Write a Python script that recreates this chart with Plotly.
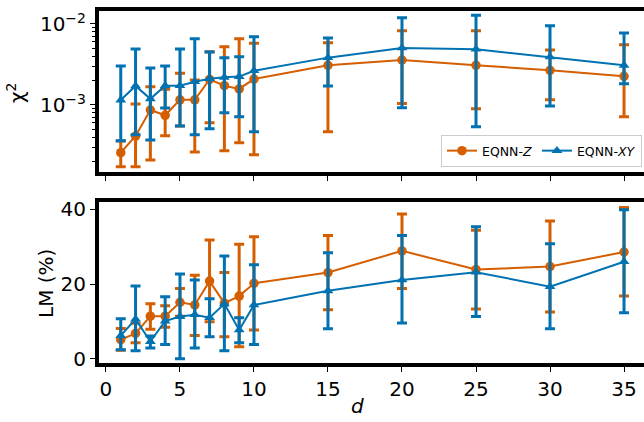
import plotly.graph_objects as go

# ---------------- data ----------------
d = [1, 2, 3, 4, 5, 6, 7, 8, 9, 10, 15, 20, 25, 30, 35]

chi_z = [2.58e-4, 4.14e-4, 8.67e-4, 7.46e-4, 1.16e-3, 1.16e-3, 2.07e-3, 1.73e-3, 1.58e-3, 2.09e-3,
         3.09e-3, 3.59e-3, 3.09e-3, 2.68e-3, 2.26e-3]
chi_z_hi = [3.6e-4, 1.03e-3, 1.68e-3, 1.56e-3, 2.46e-3, 2.04e-3, 4.55e-3, 5.25e-3, 6.59e-3, 5.78e-3,
            5.88e-3, 8.26e-3, 8.26e-3, 4.77e-3, 5.55e-3]
chi_z_lo = [1.73e-4, 1.73e-4, 2.09e-4, 4.18e-4, 5.51e-4, 2.63e-4, 6.04e-4, 2.73e-4, 3.43e-4, 2.43e-4,
            4.67e-4, 1.04e-3, 9.0e-4, 1.16e-3, 7.17e-4]

chi_xy = [1.15e-3, 1.72e-3, 1.19e-3, 1.73e-3, 1.73e-3, 1.94e-3, 2.11e-3, 2.20e-3, 2.24e-3, 2.65e-3,
          3.84e-3, 5.06e-3, 4.88e-3, 3.92e-3, 3.09e-3]
chi_xy_hi = [3.03e-3, 4.91e-3, 2.86e-3, 3.03e-3, 4.91e-3, 6.59e-3, 4.51e-3, 3.84e-3, 3.95e-3, 6.97e-3,
             6.71e-3, 1.19e-2, 1.28e-2, 9.53e-3, 7.75e-3]
chi_xy_lo = [3.62e-4, 4.30e-4, 3.70e-4, 9.18e-4, 5.51e-4, 4.30e-4, 5.10e-4, 8.04e-4, 7.17e-4, 4.68e-4,
             1.72e-3, 9.26e-4, 5.39e-4, 9.72e-4, 1.83e-3]

lm_z = [5.1, 6.8, 11.4, 11.4, 15.1, 14.4, 20.8, 14.9, 16.8, 20.2, 23.1, 28.9, 23.9, 24.7, 28.6]
lm_z_hi = [8.1, 9.5, 14.7, 14.2, 18.8, 22.4, 31.8, 23.1, 30.7, 32.7, 33.0, 38.8, 34.4, 36.9, 40.5]
lm_z_lo = [2.3, 4.3, 7.9, 8.4, 11.4, 6.2, 9.9, 5.9, 3.2, 7.7, 13.1, 18.8, 13.3, 12.5, 16.8]

lm_xy = [6.2, 10.6, 4.6, 10.1, 11.3, 11.8, 11.0, 14.7, 7.7, 14.4, 18.2, 21.1, 23.2, 19.3, 26.0]
lm_xy_hi = [10.7, 19.5, 6.1, 16.6, 22.7, 21.1, 16.1, 27.5, 11.0, 25.2, 28.4, 33.0, 35.4, 30.8, 39.9]
lm_xy_lo = [2.4, 2.1, 2.9, 3.8, 0.0, 2.9, 5.9, 2.1, 4.3, 3.8, 8.0, 9.6, 11.3, 8.0, 12.3]

x_ticks = [0, 5, 10, 15, 20, 25, 30, 35]
lm_ticks = [0, 20, 40]
names = ["EQNN-<i>Z</i>", "EQNN-<i>XY</i>"]

# ---------------- style ----------------
ORANGE = "#D55E00"
BLUE = "#0072B2"
FONT = "DejaVu Sans"


def err(mean, hi, lo):
    return dict(type="data", symmetric=False,
                array=[h - m for h, m in zip(hi, mean)],
                arrayminus=[m - l for m, l in zip(mean, lo)],
                thickness=3, width=5)


fig = go.Figure()

series = [
    (chi_z, chi_z_hi, chi_z_lo, lm_z, lm_z_hi, lm_z_lo, ORANGE, "circle", names[0]),
    (chi_xy, chi_xy_hi, chi_xy_lo, lm_xy, lm_xy_hi, lm_xy_lo, BLUE, "triangle-up", names[1]),
]
for cm, ch, cl, lm, lh, ll, col, sym, nm in series:
    e1 = err(cm, ch, cl)
    e1["color"] = col
    fig.add_trace(go.Scatter(x=d, y=cm, mode="lines+markers", name=nm,
                             line=dict(color=col, width=2),
                             marker=dict(color=col, symbol=sym, size=9.5),
                             error_y=e1, xaxis="x", yaxis="y"))
    e2 = err(lm, lh, ll)
    e2["color"] = col
    fig.add_trace(go.Scatter(x=d, y=lm, mode="lines+markers", name=nm, showlegend=False,
                             line=dict(color=col, width=2),
                             marker=dict(color=col, symbol=sym, size=9.5),
                             error_y=e2, xaxis="x2", yaxis="y2"))

L, R, T, B = 99, 0, 11, 59
W, H = 644, 422
PW = W - L - R
PH = H - T - B


def py(px):
    return (H - B - px) / PH


def px_(px):
    return (px - L) / PW


axis_common = dict(showline=True, linecolor="black", linewidth=4,
                   ticks="outside", ticklen=5, tickwidth=1.2, tickcolor="black",
                   showgrid=False, zeroline=False,
                   tickfont=dict(family=FONT, size=20, color="black"))

minor_vals = [m * 10 ** e for e in (-4, -3, -2) for m in range(2, 10)]

fig.update_layout(
    width=W, height=H,
    margin=dict(l=L, r=R, t=T, b=B, pad=0),
    paper_bgcolor="white", plot_bgcolor="white",
    showlegend=True,
    xaxis=dict(axis_common, mirror=True, domain=[0, 1], range=[-0.47, 36.35], anchor="y",
               tickvals=x_ticks, showticklabels=False),
    yaxis=dict(axis_common, mirror=False, domain=[py(172), 1], type="log",
               range=[-3.827, -1.840],
               anchor="x", tickvals=[1e-3, 1e-2],
               ticktext=["10<sup>−3</sup>", "10<sup>−2</sup>"],
               minor=dict(ticks="outside", ticklen=3, tickwidth=1, tickcolor="black",
                          tickmode="array", tickvals=minor_vals, showgrid=False)),
    xaxis2=dict(axis_common, mirror=True, domain=[0, 1], range=[-0.47, 36.35], anchor="y2",
                tickvals=x_ticks),
    yaxis2=dict(axis_common, mirror=False, domain=[0, py(202)], range=[-1.15, 42.0],
                anchor="x2", tickvals=lm_ticks),
    legend=dict(orientation="h", x=px_(642), xanchor="right", y=py(167), yanchor="bottom",
                bgcolor="rgba(255,255,255,0.8)", bordercolor="#cccccc", borderwidth=1,
                font=dict(family=FONT, size=12.5, color="black"),
                itemwidth=30, tracegroupgap=0),
    annotations=[
        dict(text="χ<sup>2</sup>", xref="paper", yref="paper", x=px_(16), y=py(93),
             showarrow=False, textangle=-90, xanchor="center", yanchor="middle",
             font=dict(family=FONT, size=20, color="black")),
        dict(text="LM (%)", xref="paper", yref="paper", x=px_(46), y=py(284),
             showarrow=False, textangle=-90, xanchor="center", yanchor="middle",
             font=dict(family=FONT, size=20, color="black")),
        dict(text="<i>d</i>", xref="paper", yref="paper", x=px_(357), y=py(406),
             showarrow=False, xanchor="center", yanchor="middle",
             font=dict(family=FONT, size=20, color="black")),
    ],
)

fig.write_html("out.html")
